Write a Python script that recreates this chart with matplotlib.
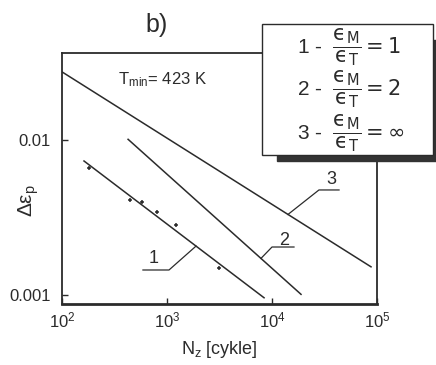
#!/usr/bin/python3

import numpy as np
import matplotlib
matplotlib.use("Agg")
import matplotlib.pyplot as plt
from matplotlib.patches import Rectangle

plt.rcParams["font.family"] = ["Liberation Sans", "DejaVu Sans"]
plt.rcParams["mathtext.fontset"] = "custom"
plt.rcParams["mathtext.rm"] = "Liberation Sans"
plt.rcParams["mathtext.it"] = "Liberation Sans:italic"
plt.rcParams["mathtext.fallback"] = "cm"

INK = "#2b2b2b"

# fitted lines (cycles, plastic strain range)
n1 = [162, 8400]
e1 = [0.00732, 0.00096]
n2 = [426, 18900]
e2 = [0.0101, 0.00101]
n3 = [100, 87700]
e3 = [0.0275, 0.00152]

# measured points for curve 1
pts_n = [181, 445, 578, 803, 1218, 3126]
pts_e = [0.00659, 0.0041, 0.00398, 0.00343, 0.00283, 0.00149]

# curve labels: anchor N on curve, elbow (N, e), tail N, text (N, e)
lab_names = ["1", "2", "3"]
lab_anchor = [1890, 7850, 14200]
lab_elbow_n = [1045, 10000, 28000]
lab_elbow_e = [0.00145, 0.00204, 0.00476]
lab_tail = [590, 16200, 43500]
lab_txt_n = [752, 13000, 36500]
lab_txt_e = [0.00172, 0.00226, 0.00552]

xticks = [1e2, 1e3, 1e4, 1e5]
xticklabels = [r"$10^2$", r"$10^3$", r"$10^4$", r"$10^5$"]
yticks = [0.001, 0.01]
yticklabels = ["0.001", "0.01"]

leg_ids = ["1", "2", "3"]
leg_ratio = ["1", "2", r"\infty"]


def on_curve(n, ns, es):
    # log-log interpolation along a straight fitted line
    return 10 ** np.interp(np.log10(n), np.log10(ns), np.log10(es))


def main():
    fig = plt.figure(figsize=(4.36, 3.65), dpi=100)
    ax = fig.add_axes([62 / 436, 61 / 365, 315 / 436, 251 / 365])

    curves = [(n1, e1), (n2, e2), (n3, e3)]
    for ns, es in curves:
        ax.plot(ns, es, color=INK, lw=1.1)

    ax.plot(pts_n, pts_e, ls="none", marker="+", ms=3.5, mec=INK, mew=1.1)

    for i, name in enumerate(lab_names):
        ns, es = curves[i]
        a = lab_anchor[i]
        ax.plot([a, lab_elbow_n[i], lab_tail[i]],
                [on_curve(a, ns, es), lab_elbow_e[i], lab_elbow_e[i]],
                color=INK, lw=0.9)
        ax.text(lab_txt_n[i], lab_txt_e[i], name, fontsize=13, color=INK,
                ha="center", va="center")

    ax.set_xscale("log")
    ax.set_yscale("log")
    ax.set_xlim(1e2, 1e5)
    ax.set_ylim(0.000875, 0.0364)
    ax.set_xticks(xticks)
    ax.set_xticklabels(xticklabels)
    ax.set_yticks(yticks)
    ax.set_yticklabels(yticklabels)
    ax.minorticks_off()
    ax.tick_params(direction="in", length=4, width=1, colors=INK,
                   labelsize=12, labelcolor=INK)
    ax.tick_params(axis="x", pad=5)
    ax.tick_params(axis="y", pad=8)
    for s in ax.spines.values():
        s.set_color(INK)
        s.set_linewidth(1.3)
    ax.spines["bottom"].set_linewidth(2)

    ax.set_xlabel(r"N$_{\rm z}$ [cykle]", fontsize=13, color=INK, labelpad=6)
    ax.set_ylabel(r"$\Delta\mathrm{\varepsilon}_{\rm p}$", fontsize=15,
                  color=INK)
    ax.yaxis.set_label_coords(-0.066, 0.414)

    fig.text(163 / 436, 1 - 80 / 365, r"T$_{\rm min}$= 423 K", fontsize=12,
             color=INK, ha="center", va="center")
    fig.text(157 / 436, 1 - 25 / 365, "b)", fontsize=18, color=INK,
             ha="center", va="center")

    # legend box with shadow
    fig.add_artist(Rectangle((277 / 436, 1 - 161 / 365), 159 / 436, 121 / 365,
                             transform=fig.transFigure, color="#333333",
                             zorder=5))
    fig.add_artist(Rectangle((262 / 436, 1 - 155 / 365), 171 / 436, 131 / 365,
                             transform=fig.transFigure, facecolor="white",
                             edgecolor=INK, lw=1.0, zorder=6))
    rows = [47, 89, 133]
    for i in range(len(leg_ids)):
        fig.text(297 / 436, 1 - rows[i] / 365,
                 leg_ids[i] + r" -  $\dfrac{\mathrm{ϵ_M}}"
                 r"{\mathrm{ϵ_T}}=" + leg_ratio[i] + "$",
                 fontsize=15, color=INK, ha="left", va="center", zorder=7,
                 math_fontfamily="dejavusans")

    fig.savefig("out.png", dpi=100)


if __name__ == "__main__":
    main()
